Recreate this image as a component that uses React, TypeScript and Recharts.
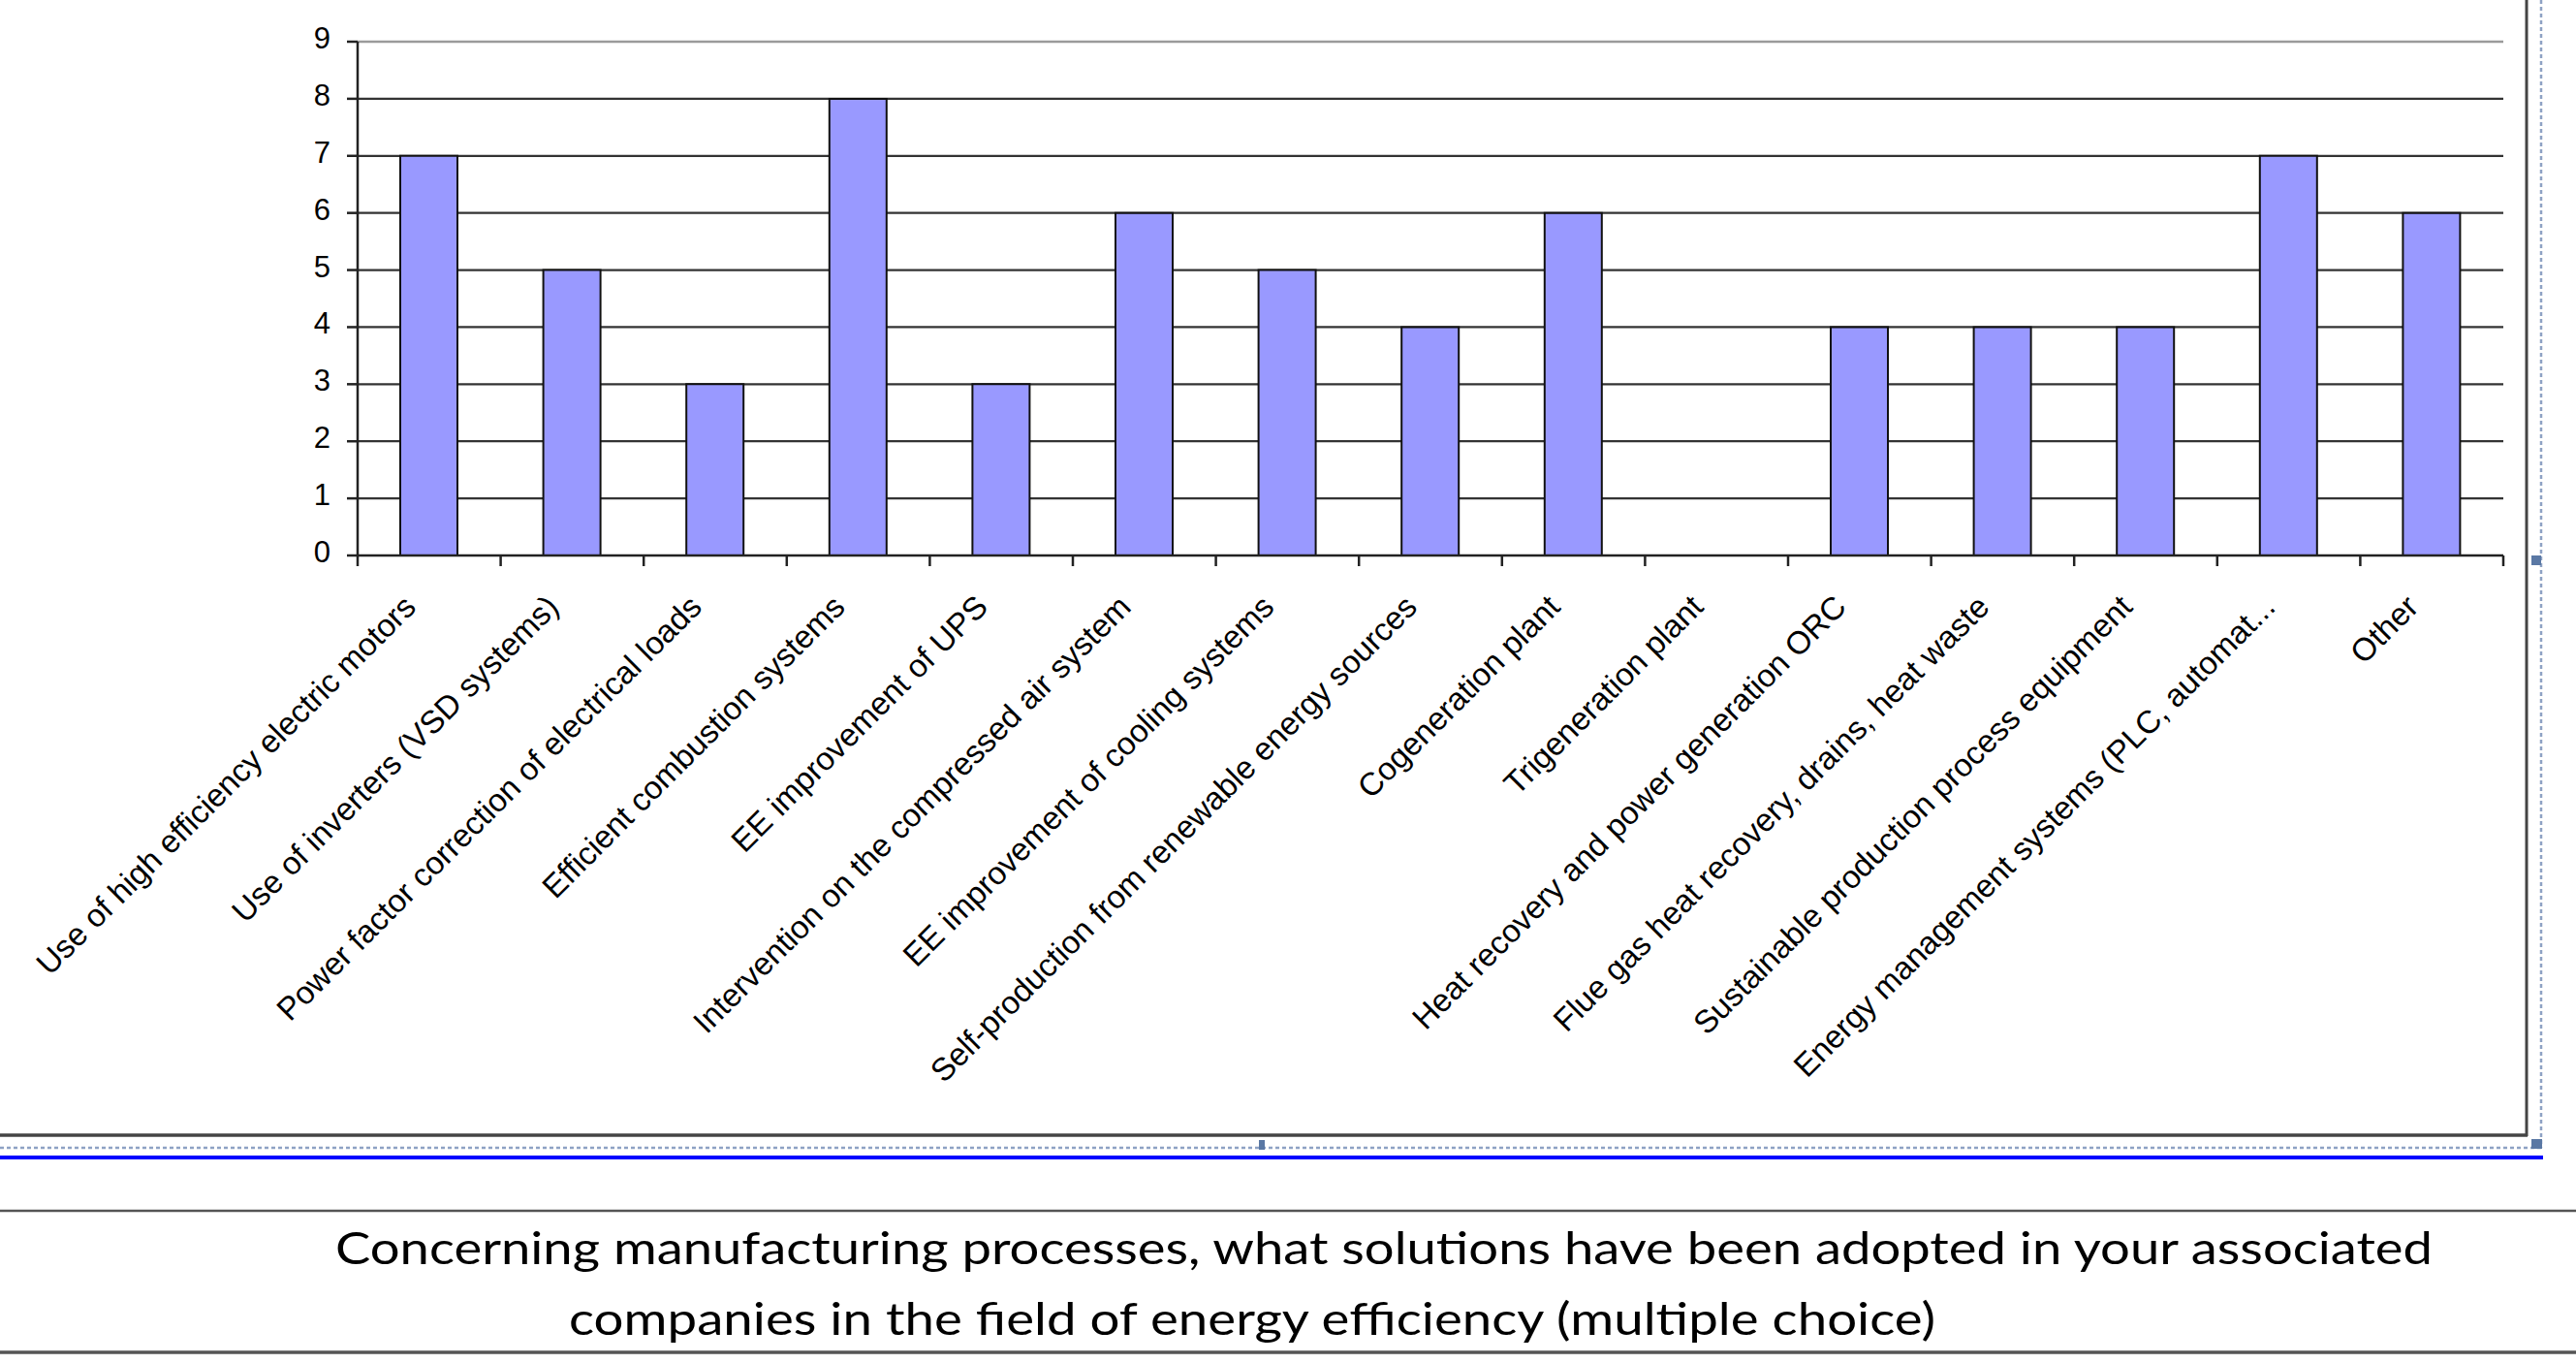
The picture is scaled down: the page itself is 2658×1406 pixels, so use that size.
import React from "react";
import {
  BarChart,
  Bar,
  XAxis,
  YAxis,
  CartesianGrid,
  ReferenceLine,
} from "recharts";

// ---------- data ----------
const categories = [
  "Use of high efficiency electric motors",
  "Use of inverters (VSD systems)",
  "Power factor correction of electrical loads",
  "Efficient combustion systems",
  "EE improvement of UPS",
  "Intervention on the compressed air system",
  "EE improvement of cooling systems",
  "Self-production from renewable energy sources",
  "Cogeneration plant",
  "Trigeneration plant",
  "Heat recovery and power generation ORC",
  "Flue gas heat recovery, drains, heat waste",
  "Sustainable production process equipment",
  "Energy management systems (PLC, automat...",
  "Other",
];
const values = [7, 5, 3, 8, 3, 6, 5, 4, 6, 0, 4, 4, 4, 7, 6];
const yTicks = [0, 1, 2, 3, 4, 5, 6, 7, 8, 9];
const captionLines = [
  "Concerning manufacturing processes, what solutions have been adopted in your associated",
  "companies in the field of energy efficiency (multiple choice)",
];

const data = categories.map((name, i) => ({ name, value: values[i] }));

// ---------- layout ----------
const W = 2658;
const H = 1406;
const CHART_H = 1168;
const PLOT_LEFT = 369;
const PLOT_RIGHT = 2583;
const PLOT_TOP = 43;
const PLOT_BOTTOM = 573;
const Y_AXIS_W = 80;
const X_AXIS_H = 500;
const BAND = (PLOT_RIGHT - PLOT_LEFT) / categories.length;
const FONT = "'Liberation Sans', Arial, sans-serif";

const XTick = (props: any) => {
  const { x, y, payload, index } = props;
  const lx = x - 12;
  const ly = y + 55;
  return (
    <g>
      <line x1={x - BAND / 2} y1={y} x2={x - BAND / 2} y2={y + 11} stroke="#222" strokeWidth={2.5} />
      {index === categories.length - 1 && (
        <line x1={x + BAND / 2} y1={y} x2={x + BAND / 2} y2={y + 11} stroke="#222" strokeWidth={2.5} />
      )}
      <text
        x={lx}
        y={ly}
        textAnchor="end"
        fontSize={33}
        fontFamily={FONT}
        fill="#000"
        transform={`rotate(-45, ${lx}, ${ly})`}
      >
        {payload.value}
      </text>
    </g>
  );
};

export default function App() {
  return (
    <div style={{ position: "absolute", left: 0, top: 0, width: W, height: H, background: "#fff" }}>
      <div style={{ position: "absolute", left: 0, top: 0 }}>
        <BarChart
          width={W}
          height={CHART_H}
          data={data}
          margin={{
            top: PLOT_TOP,
            right: W - PLOT_RIGHT,
            left: PLOT_LEFT - Y_AXIS_W,
            bottom: CHART_H - PLOT_BOTTOM - X_AXIS_H,
          }}
        >
          <CartesianGrid yAxisId="left" vertical={false} stroke="#333" strokeWidth={2.2} />
          <XAxis
            dataKey="name"
            interval={0}
            height={X_AXIS_H}
            tickSize={0}
            tickMargin={0}
            tickLine={false}
            axisLine={{ stroke: "#222", strokeWidth: 2.5 }}
            tick={<XTick />}
          />
          <YAxis
            yAxisId="left"
            width={Y_AXIS_W}
            domain={[0, 9]}
            ticks={yTicks}
            interval={0}
            tickSize={11}
            tickMargin={17}
            axisLine={{ stroke: "#222", strokeWidth: 2.5 }}
            tickLine={{ stroke: "#222", strokeWidth: 2.5 }}
            tick={{ fontSize: 31, fontFamily: FONT, fill: "#000", dy: -4 }}
          />
          <YAxis
            yAxisId="right"
            orientation="right"
            width={0}
            domain={[0, 9]}
            tick={false}
            tickLine={false}
            axisLine={{ stroke: "#999", strokeWidth: 2.5 }}
          />
          <ReferenceLine yAxisId="left" y={9} stroke="#9a9a9a" strokeWidth={2.5} />
          <Bar
            yAxisId="left"
            dataKey="value"
            fill="#9999FF"
            stroke="#111"
            strokeWidth={2}
            barSize={59}
            isAnimationActive={false}
          />
        </BarChart>
      </div>
      <svg
        width={W}
        height={H}
        style={{ position: "absolute", left: 0, top: 0, pointerEvents: "none" }}
      >
        {/* chart frame */}
        <line x1={2607} y1={0} x2={2607} y2={1172} stroke="#444" strokeWidth={3} />
        <line x1={0} y1={1171} x2={2608} y2={1171} stroke="#444" strokeWidth={3.5} />
        {/* selection dotted frame */}
        <line x1={0} y1={1184} x2={2622} y2={1184} stroke="#8ea2c4" strokeWidth={2.5} strokeDasharray="4 3" />
        <line x1={2622} y1={0} x2={2622} y2={1184} stroke="#8ea2c4" strokeWidth={2.5} strokeDasharray="4 3" />
        <rect x={1299} y={1176} width={6} height={10} fill="#5a78a4" />
        <rect x={2612} y={573} width={10} height={10} fill="#5a78a4" />
        <rect x={2612} y={1175} width={11} height={10} fill="#5a78a4" />
        {/* blue line */}
        <line x1={0} y1={1194} x2={2624} y2={1194} stroke="#0000ff" strokeWidth={4} />
        {/* caption rules */}
        <line x1={0} y1={1249} x2={W} y2={1249} stroke="#555" strokeWidth={2.5} />
        <line x1={0} y1={1395} x2={W} y2={1395} stroke="#555" strokeWidth={3.5} />
        <text
          x={346}
          y={1304}
          fontFamily="Lato, 'Open Sans', sans-serif"
          fontSize={47}
          fill="#000"
          textLength={2164}
          lengthAdjust="spacingAndGlyphs"
        >
          {captionLines[0]}
        </text>
        <text
          x={587}
          y={1377}
          fontFamily="Lato, 'Open Sans', sans-serif"
          fontSize={47}
          fill="#000"
          textLength={1410}
          lengthAdjust="spacingAndGlyphs"
        >
          {captionLines[1]}
        </text>
      </svg>
    </div>
  );
}
